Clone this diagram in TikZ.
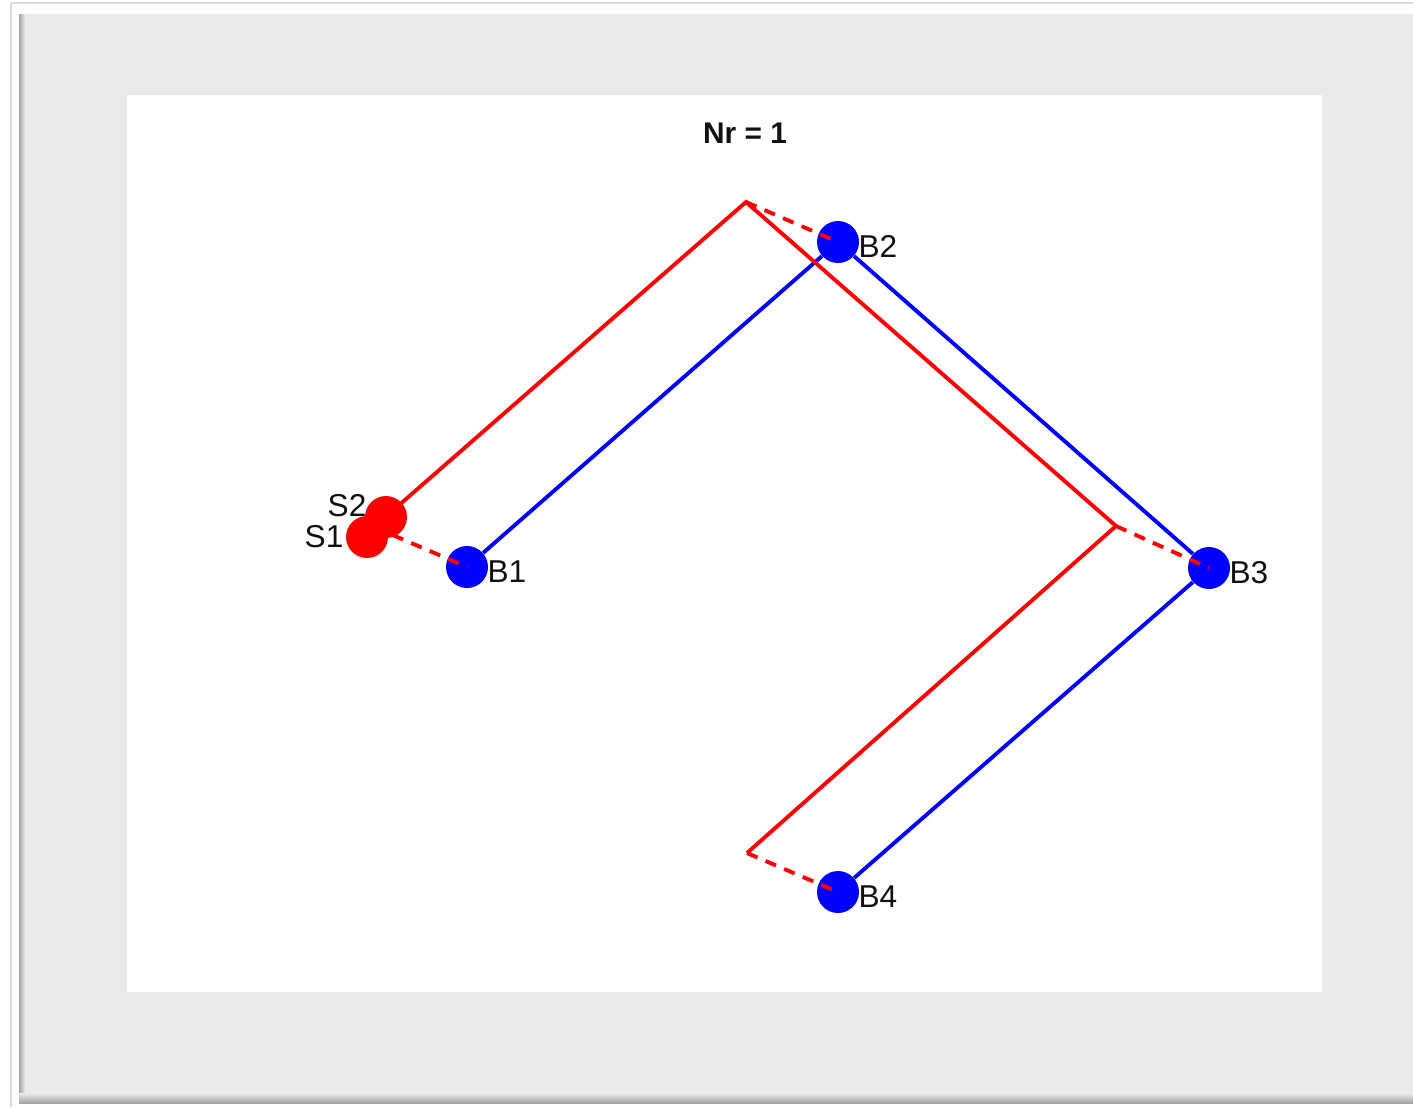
\documentclass[tikz,border=0pt]{standalone}
\usepackage{fontspec}
\setmainfont{Liberation Sans}
\usepackage{tikz}
\usetikzlibrary{positioning}
\definecolor{figGray}{HTML}{EAEAEA}
\definecolor{figEdge}{HTML}{DADADA}
\definecolor{figShadow}{HTML}{A4A4A4}
\definecolor{plotRed}{HTML}{FF0000}
\definecolor{plotBlue}{HTML}{0000FF}
\definecolor{labelInk}{HTML}{111111}

\begin{document}
\begin{tikzpicture}[
    x=0.02cm, y=-0.02cm,
    bnode/.style={
        circle,
        fill=plotBlue,
        minimum size=0.84cm,
        inner sep=0pt
    },
    snode/.style={
        circle,
        fill=plotRed,
        minimum size=0.84cm,
        inner sep=0pt
    },
    lbl/.style={
        font=\fontsize{18}{20}\selectfont,
        text=labelInk,
        inner sep=0.5pt
    },
    blueline/.style={
        draw=plotBlue,
        line width=2.2pt
    },
    redline/.style={
        draw=plotRed,
        line width=2.2pt
    },
    reddash/.style={
        draw=plotRed,
        line width=2.2pt,
        dash pattern=on 6.5pt off 5pt
    }
]
\useasboundingbox (0,0) rectangle (1413,1107);

% Figure window
\fill[white] (0,0) rectangle (1413,1107);
\draw[figEdge, line width=0.6pt] (11,3) -- (1413,3);
\draw[figEdge, line width=0.6pt] (11,3) -- (11,1107);
\fill[figGray] (20,14) rectangle (1413,1096);
\shade[left color=figShadow, right color=figGray] (19,14) rectangle (25,1096);
\shade[top color=figGray, bottom color=figShadow] (19,1093) rectangle (1413,1103);

% Axes area and title
\fill[white] (127,95) rectangle (1322,992);
\node[font=\bfseries\fontsize{17}{19}\selectfont, text=labelInk] (title) at (745,133) {Nr = 1};

% Blue nodes
\node[bnode] (b1) at (467,567) {};
\node[bnode] (b2) at (838,242) {};
\node[bnode] (b3) at (1209,568) {};
\node[bnode] (b4) at (838,892) {};

\draw[blueline] (b1) -- (b2);
\draw[blueline] (b2) -- (b3);
\draw[blueline] (b3) -- (b4);

% Red route
\coordinate (r0) at (374,527);
\coordinate (r1) at (746,202);
\coordinate (r2) at (1116,526);
\coordinate (r3) at (747,853);

\draw[redline] (r0) -- (r1) -- (r2) -- (r3);

% Red to blue links
\draw[reddash] (r0) -- (b1.center);
\draw[reddash] (r1) -- (b2.center);
\draw[reddash] (r2) -- (b3.center);
\draw[reddash] (r3) -- (b4.center);

% Red nodes
\node[snode] (s1) at (367,537) {};
\node[snode] (s2) at (386,517) {};

% Labels
\node[lbl, right=-0.04cm of b1, yshift=-0.09cm] (b1lab) {B1};
\node[lbl, right=-0.04cm of b2, yshift=-0.09cm] (b2lab) {B2};
\node[lbl, right=-0.04cm of b3, yshift=-0.09cm] (b3lab) {B3};
\node[lbl, right=-0.04cm of b4, yshift=-0.09cm] (b4lab) {B4};
\node[lbl, left=-0.06cm of s2, yshift=0.22cm] (s2lab) {S2};
\node[lbl, left=0.02cm of s1] (s1lab) {S1};

\end{tikzpicture}
\end{document}
